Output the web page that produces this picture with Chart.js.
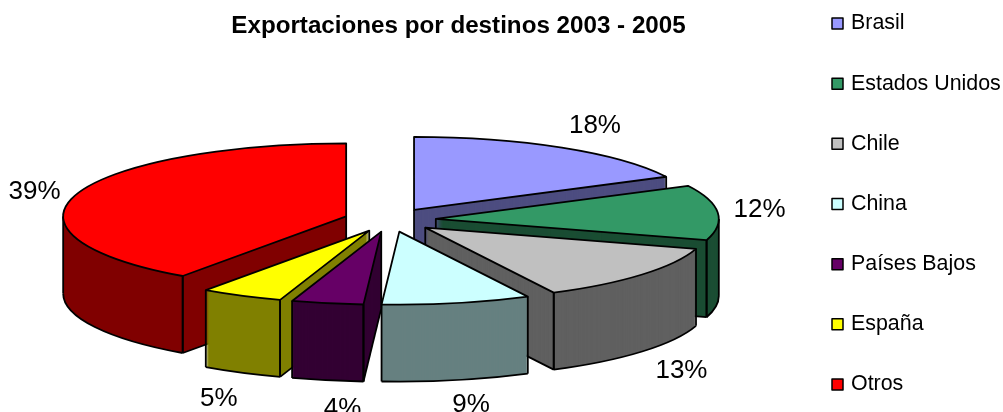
<!DOCTYPE html>
<html><head><meta charset="utf-8">
<style>html,body{margin:0;padding:0;background:#fff}#w{width:1003px;height:412px}</style>
<script src="https://cdn.jsdelivr.net/npm/chart.js@4"></script></head>
<body><div id="w"><canvas id="c" width="1003" height="412"></canvas></div>
<script>
const categories = ["Brasil","Estados Unidos","Chile","China","Países Bajos","España","Otros"];
const percentLabels = [18,12,13,9,4,5,39];
const sliceSizes = [17.5,12.2,12.8,8.5,4.1,4.7,40.2];
const topColors = ["#9999ff","#339966","#c0c0c0","#ccffff","#660066","#ffff00","#ff0000"];
const wallColors = ["#4d4d80","#1a4d33","#606060","#668080","#330033","#808000","#800000"];
const chartTitle = "Exportaciones por destinos 2003 - 2005";

const view = {cx:390, cy:220, rx:283, ry:73, depth:77, explode:46};
const labelFont = '26px "Liberation Sans", Arial, sans-serif';
const legendFont = '21.4px "Liberation Sans", Arial, sans-serif';
const labelNudge = [[9,0],[-4,-1],[4,3],[5,0],[24,4],[-2,4],[2,5]];

const pie3d = {
  id:'pie3d',
  beforeDatasetsDraw(chart){
    const ctx = chart.ctx, arcs = chart.getDatasetMeta(0).data;
    const order = arcs.map((a,i)=>i).sort((p,q)=>Math.sin(mid(arcs[p]))-Math.sin(mid(arcs[q])));
    function mid(a){return (a.startAngle+a.endAngle)/2;}
    const v = view;
    function centre(a){
      const m = mid(a), k = v.explode;
      return [v.cx+k*Math.cos(m), v.cy+k*Math.sin(m)*v.ry/v.rx];
    }
    function rim(a,t,dz){
      const c = centre(a);
      return [c[0]+v.rx*Math.cos(t), c[1]+v.ry*Math.sin(t)+dz];
    }
    function paint(a,color,dz){
      const R = a.outerRadius, c = centre(a);
      const face = Object.assign(Object.create(a),{options:{backgroundColor:color,borderColor:color,borderWidth:0,offset:0,spacing:0,borderRadius:0,borderAlign:'center',circular:true}});
      ctx.save();
      ctx.translate(c[0],c[1]+dz);
      ctx.scale(v.rx/R,v.ry/R);
      ctx.translate(-a.x,-a.y);
      face.draw(ctx);
      ctx.restore();
    }
    function seg(p,q){ctx.beginPath();ctx.moveTo(p[0],p[1]);ctx.lineTo(q[0],q[1]);ctx.stroke();}
    ctx.save();
    ctx.strokeStyle='#000';ctx.lineWidth=1.8;ctx.lineJoin='round';
    order.forEach(i=>{
      const a = arcs[i], c = centre(a), s=a.startAngle, e=a.endAngle;
      for(let d=v.depth;d>0;d--) paint(a,wallColors[i],d);
      const up=[c[0],c[1]], down=[c[0],c[1]+v.depth];
      const vertical=t=>seg(rim(a,t,0),rim(a,t,v.depth));
      if(-Math.cos(s)>0.001){seg(up,down);seg(down,rim(a,s,v.depth));vertical(s);}
      if(Math.cos(e)>0.001){seg(up,down);seg(down,rim(a,e,v.depth));vertical(e);}
      const two=2*Math.PI;
      for(const k of [-1,0,1]){
        const lo=Math.max(s,k*two), hi=Math.min(e,k*two+Math.PI);
        if(hi>lo){
          ctx.beginPath();
          ctx.ellipse(c[0],c[1]+v.depth,v.rx,v.ry,0,lo,hi);
          ctx.stroke();
          vertical(lo);vertical(hi);
        }
      }
      paint(a,topColors[i],0);
      ctx.beginPath();
      ctx.moveTo(c[0],c[1]);
      ctx.ellipse(c[0],c[1],v.rx,v.ry,0,s,e);
      ctx.closePath();
      ctx.stroke();
    });
    ctx.fillStyle='#000';ctx.font=labelFont;ctx.textAlign='center';ctx.textBaseline='middle';
    arcs.forEach((a,i)=>{
      const m=mid(a), sn=Math.sin(m);
      const x=v.cx+375*Math.cos(m)+labelNudge[i][0];
      const y=v.cy+110*sn+(sn>0?v.depth:0)+labelNudge[i][1];
      ctx.fillText(percentLabels[i]+'%',x,y);
    });
    ctx.font=legendFont;ctx.textAlign='left';
    categories.forEach((n,i)=>{
      const y=23.5+60.17*i;
      ctx.fillStyle=topColors[i];ctx.fillRect(832,y-5.5,11,11);
      ctx.strokeStyle='#000';ctx.lineWidth=1.5;ctx.strokeRect(832,y-5.5,11,11);
      ctx.fillStyle='#000';ctx.fillText(n,851,y);
    });
    ctx.restore();
    return false;
  }
};

new Chart(document.getElementById('c'),{
  type:'pie',
  data:{labels:categories,datasets:[{data:sliceSizes,backgroundColor:topColors,borderWidth:0}]},
  options:{
    responsive:false,animation:false,
    layout:{padding:{right:86}},
    plugins:{
      legend:{display:false},tooltip:{enabled:false},
      title:{display:true,fullSize:false,text:chartTitle,color:'#000',padding:{top:12,bottom:10},
        font:{family:'"Liberation Sans", Arial, sans-serif',size:24.2,weight:'bold'}}
    }
  },
  plugins:[pie3d]
});
</script></body></html>
